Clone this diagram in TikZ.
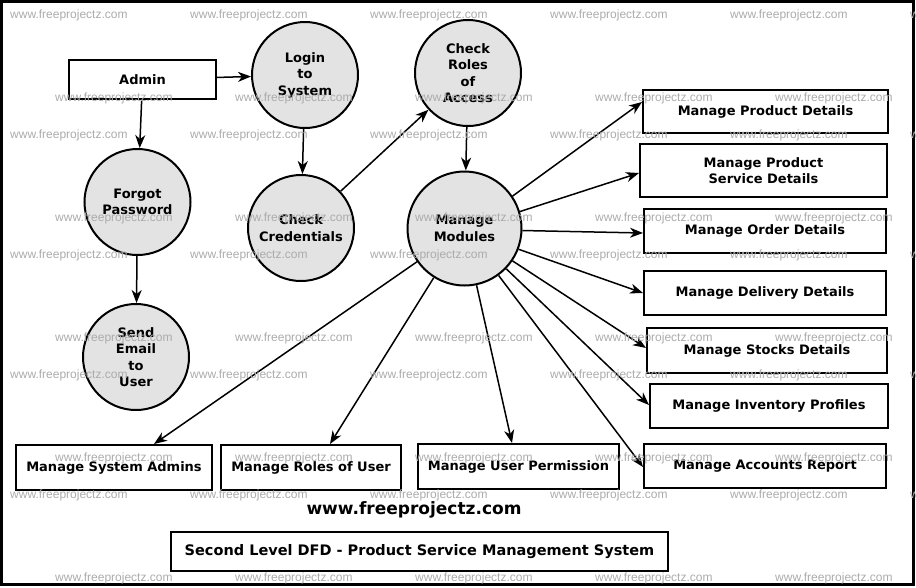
\documentclass[tikz,border=0pt]{standalone}
\usepackage{fontspec}
\setmainfont{DejaVu Sans}
\newfontfamily\wmfont{Liberation Sans}
\usetikzlibrary{arrows.meta}
\definecolor{procfill}{HTML}{E3E3E3}
\definecolor{wmgray}{HTML}{ABABAB}
\tikzset{
	process/.style={circle, draw, line width=2pt, fill=procfill, inner sep=0pt, minimum size=106pt, align=center, font=\bfseries\fontsize{13}{16.5}\selectfont},
	entity/.style={rectangle, draw, line width=2pt, inner sep=0pt, align=center, font=\bfseries\fontsize{13}{16}\selectfont},
	flow/.style={line width=1.5pt, -{Stealth[length=13pt, width=10pt, inset=4pt]}},
	wmtext/.style={anchor=west, text=wmgray, inner sep=0pt, font=\wmfont\fontsize{12}{12}\selectfont}
}

\begin{document}
\begin{tikzpicture}[x=1pt, y=-1pt]
		%%%%% START %%%%%
		\useasboundingbox (0, 0) rectangle (916, 587);
		\draw[line width=3pt] (1.5, 1.5) rectangle (913.5, 584.5);
		
		% processes
		\node[process] (login) at (305, 75) {Login\\to\\System};
		\node[process] (roles) at (468, 73) {Check\\Roles\\of\\Access};
		\node[process] (forgot) at (137.5, 202) {Forgot\\Password};
		\node[process] (cred) at (301, 228) {Check\\Credentials};
		\node[process, minimum size=114pt] (mm) at (464.5, 228.5) {Manage\\Modules};
		\node[process] (email) at (136, 357) {Send\\Email\\to\\User};
		
		% entities
		\node[entity, minimum width=147pt, minimum height=39pt] (admin) at (142.5, 79.5) {Admin};
		\node[entity, minimum width=245pt, minimum height=43pt] (prod) at (765.5, 111.5) {Manage Product Details};
		\node[entity, minimum width=247pt, minimum height=53pt] (service) at (763.5, 170.5) {Manage Product\\Service Details};
		\node[entity, minimum width=242pt, minimum height=44pt] (order) at (765, 231) {Manage Order Details};
		\node[entity, minimum width=242pt, minimum height=44pt] (delivery) at (765, 293) {Manage Delivery Details};
		\node[entity, minimum width=240pt, minimum height=45pt] (stocks) at (767, 350.5) {Manage Stocks Details};
		\node[entity, minimum width=238pt, minimum height=44pt] (inventory) at (769, 406) {Manage Inventory Profiles};
		\node[entity, minimum width=242pt, minimum height=44pt] (accounts) at (765, 466) {Manage Accounts Report};
		\node[entity, minimum width=201pt, minimum height=45pt] (permission) at (518.5, 466.5) {Manage User Permission};
		\node[entity, minimum width=180pt, minimum height=45pt] (userroles) at (311, 467.5) {Manage Roles of User};
		\node[entity, minimum width=196pt, minimum height=45pt] (sysadmins) at (114, 467.5) {Manage System Admins};
		
		\node[font=\bfseries\fontsize{17}{17}\selectfont] (site) at (414, 510) {www.freeprojectz.com};
		\node[entity, minimum width=497pt, minimum height=39pt, font=\bfseries\fontsize{14.5}{14.5}\selectfont] (title) at (419.5, 551.5) {Second Level DFD - Product Service Management System};
		
		% flows
		\draw[flow] (admin) -- (login);
		\draw[flow] (admin) -- (forgot);
		\draw[flow] (login) -- (cred);
		\draw[flow] (cred) -- (roles);
		\draw[flow] (roles) -- (mm);
		\draw[flow] (forgot) -- (email);
		
		\draw[flow] (mm.34.6) -- ([yshift=9.5pt]prod.west);
		\draw[flow] (mm.17.8) -- ([yshift=-2.5pt]service.west);
		\draw[flow] (mm.-2) -- ([yshift=-2pt]order.west);
		\draw[flow] (mm.-21) -- (delivery.west);
		\draw[flow] (mm.-34) -- ([yshift=2.5pt]stocks.west);
		\draw[flow] (mm.-44) -- ([yshift=1pt]inventory.west);
		\draw[flow] (mm.-54) -- ([yshift=-1pt]accounts.west);
		\draw[flow] (mm.-78) -- ([xshift=-6.5pt]permission.north);
		\draw[flow] (mm.-122) -- ([xshift=19pt]userroles.north);
		\draw[flow] (mm.-145) -- ([xshift=40pt]sysadmins.north);
		
		% watermark
		\foreach \row in {0,...,4} {
			\foreach \col in {0,...,5} {
				\node[wmtext] (wa\row\col) at ({10+180*\col}, {15+120*\row}) {www.freeprojectz.com};
			}
			\foreach \col in {0,...,4} {
				\node[wmtext] (wb\row\col) at ({55+180*\col}, {98+120*\row}) {www.freeprojectz.com};
			}
		}
		
		%%%%% END %%%%%
	\end{tikzpicture}
\end{document}
